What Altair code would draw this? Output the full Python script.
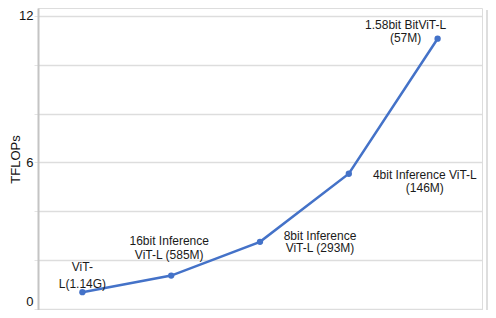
import altair as alt
import pandas as pd

models = ["ViT-L", "16bit ViT-L", "8bit ViT-L", "4bit ViT-L", "BitViT-L"]
labels = ["ViT-\nL(1.14G)", "16bit Inference\nViT-L (585M)", "8bit Inference\nViT-L (293M)",
          "4bit Inference ViT-L\n(146M)", "1.58bit BitViT-L\n(57M)"]
tflops = [0.69, 1.37, 2.75, 5.54, 11.07]
y_ticks = [0, 2, 4, 6, 8, 10, 12]

df = pd.DataFrame({"idx": list(range(len(models))), "model": models,
                   "label": labels, "tflops": tflops})

FONT = "Liberation Sans"
BLUE = "#4472c8"

x = alt.X("idx:Q", scale=alt.Scale(domain=[-0.5, 4.5], nice=False, zero=False), axis=None)
y = alt.Y("tflops:Q",
          scale=alt.Scale(domain=[-0.041, 12.327], nice=False, zero=False),
          axis=alt.Axis(values=y_ticks, title="TFLOPs", titleFont=FONT, titleFontSize=13,
                        titleFontWeight="normal", titleColor="#111", titleX=-16,
                        labelExpr="(datum.value % 6 == 0) ? datum.label : ''",
                        labelBaseline=alt.ExprRef(expr="datum.value == 0 ? 'bottom' : 'middle'"),
                        labelFont=FONT, labelFontSize=13, labelColor="#111", labelPadding=1,
                        tickSize=4, tickColor="#e4e4e4", domainColor="#c4c4c4", domainWidth=2,
                        gridColor="#dddddd", gridWidth=1.5))

base = alt.Chart(df)
line = base.mark_line(color=BLUE, strokeWidth=2.5).encode(x=x, y=y)
pts = base.mark_point(color=BLUE, filled=True, size=40, opacity=1).encode(x=x, y=y)

offsets = [(0, -30, 17), (-2, -40, 14), (60, -11, 12.5), (76, -4, 13), (-32, -19, 13)]
texts = []
for i, (dx, dy, lh) in enumerate(offsets):
    texts.append(
        base.transform_filter(alt.datum.idx == i).mark_text(
            align="center", baseline="top", dx=dx, dy=dy, lineBreak="\n", lineHeight=lh,
            font=FONT, fontSize=12, color="#1a1a1a"
        ).encode(x=x, y=y, text="label:N")
    )

frame = alt.Chart(pd.DataFrame({"a": [0]})).mark_rule(color="#dedede", strokeWidth=2, clip=False).encode(
    x=alt.value(449), y=alt.value(2), y2=alt.value(302))

chart = alt.layer(line, pts, *texts, frame).properties(
    width=444, height=302,
    autosize=alt.AutoSizeParams(type="none"),
    padding={"left": 30, "top": 0, "right": 6, "bottom": 0},
).configure_view(stroke=None).configure(background="white")

chart.save("out.html", embed_options={"renderer": "svg", "actions": False})
